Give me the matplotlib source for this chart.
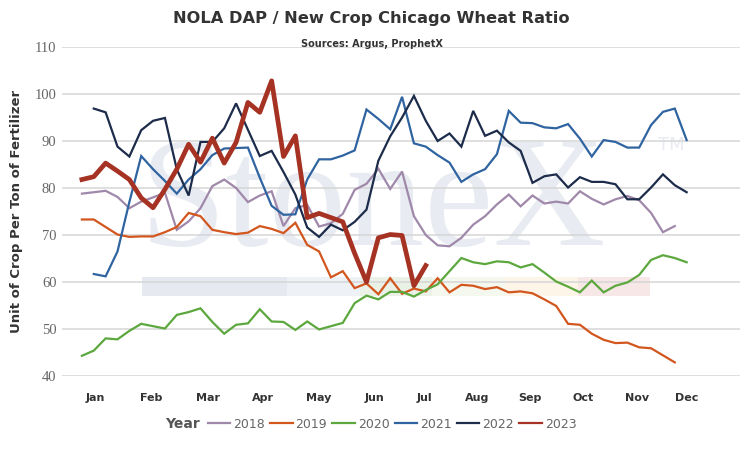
import numpy as np
import matplotlib
matplotlib.use("Agg")
import matplotlib.pyplot as plt
from matplotlib.lines import Line2D
from matplotlib.patches import Rectangle

nan = np.nan
weeks = np.arange(1, 53)

years = ["2018", "2019", "2020", "2021", "2022", "2023"]

y2018 = [78.8, 79.1, 79.4, 78.1, 75.7, 77.1, 78.0, 79.0, 71.1, 72.9,
         75.7, 80.4, 81.8, 80.0, 77.0, 78.4, 79.3, 71.9, 75.7, 76.4,
         71.8, 72.5, 74.5, 79.6, 80.9, 84.1, 79.8, 83.5, 74.0, 70.0,
         67.8, 67.6, 69.4, 72.2, 74.0, 76.5, 78.6, 76.1, 78.4, 76.7,
         77.1, 76.7, 79.3, 77.7, 76.5, 77.6, 78.3, 77.4, 74.7, 70.6,
         71.9, nan]
y2019 = [73.3, 73.3, 71.7, 70.1, 69.6, 69.7, 69.7, 70.6, 71.7, 74.7,
         74.0, 71.1, 70.6, 70.2, 70.5, 71.9, 71.3, 70.4, 72.6, 67.9,
         66.5, 61.0, 62.3, 58.7, 59.7, 57.4, 60.8, 57.5, 58.6, 58.0,
         60.8, 57.8, 59.4, 59.2, 58.5, 58.9, 57.8, 58.0, 57.6, 56.3,
         54.9, 51.1, 50.9, 49.0, 47.7, 47.0, 47.1, 46.1, 45.9, 44.4,
         42.9, nan]
y2020 = [44.3, 45.4, 48.0, 47.8, 49.6, 51.1, 50.6, 50.1, 53.0, 53.6,
         54.4, 51.5, 49.0, 50.9, 51.2, 54.2, 51.6, 51.5, 49.8, 51.6,
         49.9, 50.6, 51.3, 55.5, 57.1, 56.3, 57.9, 57.9, 56.9, 58.3,
         59.5, 62.3, 65.1, 64.2, 63.8, 64.4, 64.2, 63.1, 63.8, 62.0,
         60.1, 59.0, 57.8, 60.3, 57.8, 59.2, 59.9, 61.5, 64.7, 65.7,
         65.1, 64.2]
y2021 = [nan, 61.7, 61.2, 66.5, 77.0, 86.8, 84.0, 81.5, 78.8, 81.8,
         84.0, 87.0, 88.4, 88.5, 88.6, 82.2, 76.2, 74.3, 74.4, 81.8,
         86.1, 86.1, 86.9, 88.0, 96.7, 94.7, 92.5, 99.4, 89.5, 88.8,
         87.0, 85.4, 81.3, 82.9, 84.0, 87.2, 96.4, 93.9, 93.8, 92.9,
         92.7, 93.6, 90.5, 86.7, 90.2, 89.8, 88.6, 88.6, 93.4, 96.2,
         96.9, 90.2]
y2022 = [nan, 96.9, 96.1, 88.8, 86.7, 92.3, 94.3, 94.9, 84.0, 78.4,
         89.8, 89.8, 92.7, 98.0, 92.4, 86.8, 87.9, 83.4, 78.6, 71.6,
         69.6, 72.2, 71.0, 72.8, 75.4, 85.8, 91.0, 95.0, 99.6, 94.3,
         90.0, 91.6, 88.8, 96.4, 91.1, 92.2, 89.7, 87.9, 81.1, 82.5,
         82.9, 80.1, 82.3, 81.3, 81.3, 80.8, 77.6, 77.6, 80.1, 82.9,
         80.6, 79.1]
y2023 = [81.8, 82.4, 85.3, 83.6, 81.8, 77.9, 75.8, 79.7, 84.0, 89.3,
         85.5, 90.6, 85.3, 89.7, 98.2, 96.1, 102.8, 86.7, 91.1, 73.7,
         74.6, 73.7, 72.8, 66.1, 60.0, 69.4, 70.1, 69.9, 59.2, 63.5] + [nan] * 22

series = [y2018, y2019, y2020, y2021, y2022, y2023]
colors = ["#a088aa", "#d2561e", "#5ca83e", "#2f64a0", "#1c2c4a", "#a53222"]
widths = [1.6, 1.6, 1.6, 1.6, 1.6, 3.4]

months = ["Jan", "Feb", "Mar", "Apr", "May", "Jun", "Jul", "Aug", "Sep", "Oct", "Nov", "Dec"]
month_pos = [2.1, 6.8, 11.6, 16.3, 21.0, 25.7, 29.9, 34.3, 38.8, 43.3, 47.8, 52.0]
yticks = [40, 50, 60, 70, 80, 90, 100, 110]

W, H = 743, 451
fig = plt.figure(figsize=(W / 100, H / 100), dpi=100)
L, R, T, B = 62, 740, 47, 376
ax = fig.add_axes([L / W, 1 - B / H, (R - L) / W, (B - T) / H])
ax.set_xlim(-0.68, 56.5)
ax.set_ylim(40, 110)

# watermark
def ax_frac(px, py):
    return ((px - L) / (R - L), (B - py) / (B - T))

wx, wy = ax_frac(140, 245)
ax.text(wx, wy, "StoneX", transform=ax.transAxes, fontsize=112,
        family="Liberation Serif", color="#e8ebf1", va="baseline", ha="left", zorder=0)
tx, ty = ax_frac(658, 145)
ax.text(tx, ty, "TM", transform=ax.transAxes, fontsize=13,
        family="DejaVu Sans", color="#e8ebf1", va="center", ha="left", zorder=0)
band = [(142, 287, "#e6eaf0"), (287, 360, "#eef1f6"), (360, 432, "#eaf2e7"),
        (432, 505, "#f5f8ee"), (505, 578, "#fdf6e8"), (578, 650, "#f8e7e7")]
for x0, x1, c in band:
    fx0, fy0 = ax_frac(x0, 296)
    fx1, fy1 = ax_frac(x1, 277)
    ax.add_patch(Rectangle((fx0, fy0), fx1 - fx0, fy1 - fy0, transform=ax.transAxes,
                           facecolor=c, edgecolor="none", zorder=0))

ax.set_yticks(yticks)
ax.grid(axis="y", color="#d6d6d6", linewidth=1.1, zorder=0.5)
ax.set_axisbelow(True)
for s in ax.spines.values():
    s.set_visible(False)
ax.set_xticks(month_pos)
ax.set_xticklabels(months, fontsize=8, fontweight="bold", color="#333333")
ax.tick_params(axis="x", length=0, pad=12)
ax.tick_params(axis="y", length=0, pad=4, labelsize=10.5, labelcolor="#666666")
for lab in ax.get_yticklabels():
    lab.set_family("Liberation Serif")

handles = []
for yr, ys, c, lw in zip(years, series, colors, widths):
    ax.plot(weeks, ys, color=c, linewidth=lw, solid_joinstyle="miter" if lw < 3 else "round",
            zorder=3)
    handles.append(Line2D([0], [0], color=c, linewidth=1.6))

fig.text(0.5, 1 - 19 / H, "NOLA DAP / New Crop Chicago Wheat Ratio", ha="center", va="center",
         fontsize=11.7, fontweight="bold", color="#333333")
fig.text(0.5, 1 - 44 / H, "Sources: Argus, ProphetX", ha="center", va="center",
         fontsize=7, fontweight="bold", color="#333333")
fig.text(17 / W, 1 - 211 / H, "Unit of Crop Per Ton of Fertilizer", rotation=90,
         ha="center", va="center", fontsize=9.5, fontweight="bold", color="#333333")

fig.text(182 / W, 1 - 424 / H, "Year", ha="center", va="center",
         fontsize=10, fontweight="bold", color="#555555")
fig.legend(handles, years, loc="center", bbox_to_anchor=(392 / W, 1 - 424 / H), ncol=6,
           frameon=False, handlelength=1.8, handletextpad=0.25, columnspacing=0.4,
           fontsize=9, labelcolor="#666666", borderpad=0, borderaxespad=0)

fig.savefig("out.png", dpi=100)
